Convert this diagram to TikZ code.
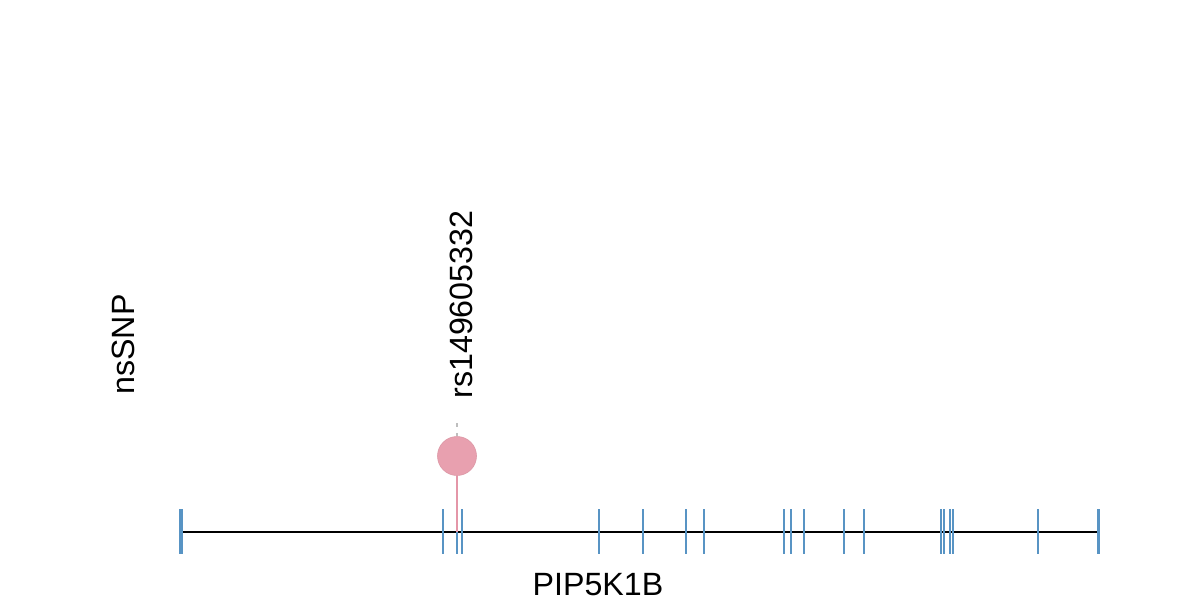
\documentclass[tikz,border=0pt]{standalone}
\usepackage{fontspec}
\newfontfamily\labfont{Liberation Sans}
\definecolor{exonblue}{RGB}{88,148,196}
\definecolor{snppink}{RGB}{232,160,175}
\definecolor{snpline}{RGB}{228,150,168}
\definecolor{guide}{RGB}{190,190,190}
\tikzset{
  lab/.style={inner sep=0pt, font=\labfont\fontsize{16.1}{19}\selectfont},
  exon/.style={draw=exonblue, line width=1pt},
  exonthick/.style={draw=exonblue, line width=1.8pt},
  gene/.style={draw=black, line width=1pt},
  snpdot/.style={circle, fill=snppink, draw=snppink!95!black, line width=0.3pt, minimum size=19.5pt, inner sep=0pt},
}
\begin{document}
\begin{tikzpicture}[x=0.5pt,y=-0.5pt]
\useasboundingbox (0,0) rectangle (1200,600);
% gene line
\coordinate (gs) at (180.7,531.5);
\coordinate (ge) at (1098.3,531.5);
\draw[gene] (gs) -- (ge);
% exon ticks
\foreach \x in {442.7,457,462,599,643.3,685.7,704.3,784.3,791,804,844,864,941,944,950,953,1037.7}
  \draw[exon] (\x,509) -- (\x,554);
\draw[exonthick] (180.7,509) -- (180.7,554);
\draw[exonthick] (1098.3,509) -- (1098.3,554);
% SNP
\coordinate (pinbase) at (457,531.5);
\coordinate (guidetop) at (457,423);
\node[snpdot] (snp) at (457,456) {};
\draw[guide, line width=0.6pt, dash pattern=on 2pt off 3pt] (guidetop) -- (snp.north);
\draw[snpline, line width=1pt] (snp.south) -- (pinbase);
% labels
\node[lab, rotate=90, anchor=base west] (rs) at (472,399) {rs149605332};
\node[lab, rotate=90, anchor=base] (track) at (134.5,344.5) {nsSNP};
\node[lab, anchor=base] (gname) at (598,595) {PIP5K1B};
\end{tikzpicture}
\end{document}
